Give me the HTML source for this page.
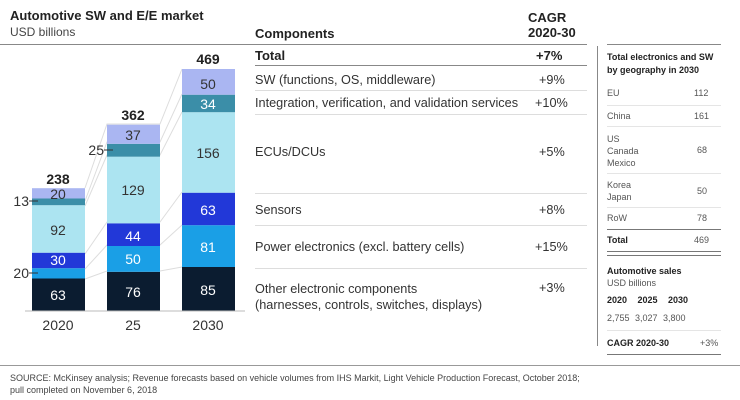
<!DOCTYPE html><html><head><style>
body{margin:0;width:740px;height:400px;background:#fff;position:relative;overflow:hidden;font-family:"Liberation Sans",sans-serif;color:#222}
.a{position:absolute;white-space:nowrap}
.s{position:absolute}
.r{font-size:12.7px;color:#333}
.g{font-size:9px;color:#555}
.hl{position:absolute;height:1px;background:#ddd}
</style></head><body>
<div class="a" style="left:10px;top:8px;font-size:13px;font-weight:bold;color:#222">Automotive SW and E/E market</div>
<div class="a" style="left:10px;top:25px;font-size:12px;color:#444">USD billions</div>
<div class="s" style="left:0;top:44px;width:587px;height:1px;background:#888"></div>

<svg class="s" style="left:0;top:0" width="250" height="330">
<g stroke="#ddd" stroke-width="1" fill="none">
<polyline points="85,188 107,124 160,124 182,69"/>
<polyline points="85,201 107,142 160,142 182,94"/>
<polyline points="85,206 107,155 160,155 182,112"/>
<polyline points="85,254 107,222 160,222 182,192"/>
<polyline points="85,269 107,245 160,245 182,225"/>
<polyline points="85,279 107,271 160,271 182,267"/>
</g>
<rect x="32" y="278.5" width="53" height="32.5" fill="#0b1c30"/>
<rect x="32" y="268.2" width="53" height="10.3" fill="#1a9fe6"/>
<rect x="32" y="252.7" width="53" height="15.5" fill="#2238d8"/>
<rect x="32" y="205.2" width="53" height="47.5" fill="#ace4f1"/>
<rect x="32" y="198.5" width="53" height="6.7" fill="#3b8ea8"/>
<rect x="32" y="188.2" width="53" height="10.3" fill="#aab6f2"/>
<rect x="107" y="271.8" width="53" height="39.2" fill="#0b1c30"/>
<rect x="107" y="246" width="53" height="25.8" fill="#1a9fe6"/>
<rect x="107" y="223.3" width="53" height="22.7" fill="#2238d8"/>
<rect x="107" y="156.7" width="53" height="66.6" fill="#ace4f1"/>
<rect x="107" y="143.8" width="53" height="12.9" fill="#3b8ea8"/>
<rect x="107" y="124.7" width="53" height="19.1" fill="#aab6f2"/>
<rect x="182" y="267" width="53" height="44" fill="#0b1c30"/>
<rect x="182" y="225.2" width="53" height="41.8" fill="#1a9fe6"/>
<rect x="182" y="192.7" width="53" height="32.5" fill="#2238d8"/>
<rect x="182" y="112.2" width="53" height="80.5" fill="#ace4f1"/>
<rect x="182" y="94.7" width="53" height="17.5" fill="#3b8ea8"/>
<rect x="182" y="69" width="53" height="25.7" fill="#aab6f2"/>
<line x1="25" y1="311" x2="245" y2="311" stroke="#bbb"/>
<g stroke="#333"><line x1="29" y1="273" x2="38" y2="273"/><line x1="29" y1="201" x2="38" y2="201"/><line x1="104" y1="150" x2="113" y2="150"/></g>
<g font-family="Liberation Sans" font-size="14" text-anchor="middle" fill="#333">
<text x="58" y="300" fill="#fff">63</text><text x="58" y="265" fill="#fff">30</text><text x="58" y="235">92</text><text x="58" y="199">20</text>
<text x="133" y="297" fill="#fff">76</text><text x="133" y="264" fill="#fff">50</text><text x="133" y="241" fill="#fff">44</text><text x="133" y="195">129</text><text x="133" y="140">37</text>
<text x="208" y="295" fill="#fff">85</text><text x="208" y="252" fill="#fff">81</text><text x="208" y="215" fill="#fff">63</text><text x="208" y="158">156</text><text x="208" y="109" fill="#fff">34</text><text x="208" y="89">50</text>
<g font-weight="bold" fill="#222"><text x="58" y="184">238</text><text x="133" y="120">362</text><text x="208" y="64">469</text></g>
<g text-anchor="end"><text x="29" y="278">20</text><text x="29" y="206">13</text><text x="104" y="155">25</text></g>
<text x="58" y="330">2020</text><text x="133" y="330">25</text><text x="208" y="330">2030</text>
</g>
</svg>

<div class="a" style="left:255px;top:26px;font-size:13px;font-weight:bold">Components</div>
<div class="a" style="left:528px;top:10px;font-size:13px;font-weight:bold;line-height:15px">CAGR<br>2020-30</div>
<div class="a" style="left:255px;top:48px;font-size:13px;font-weight:bold">Total</div>
<div class="a" style="left:536px;top:48px;font-size:13px;font-weight:bold">+7%</div>
<div class="s" style="left:255px;top:65px;width:332px;height:1px;background:#888"></div>
<div class="a r" style="left:255px;top:73px">SW (functions, OS, middleware)</div><div class="a r" style="left:539px;top:73px">+9%</div>
<div class="hl" style="left:255px;top:90px;width:332px"></div>
<div class="a r" style="left:255px;top:96px">Integration, verification, and validation services</div><div class="a r" style="left:535px;top:96px">+10%</div>
<div class="hl" style="left:255px;top:114px;width:332px"></div>
<div class="a r" style="left:255px;top:145px">ECUs/DCUs</div><div class="a r" style="left:539px;top:145px">+5%</div>
<div class="hl" style="left:255px;top:193px;width:332px"></div>
<div class="a r" style="left:255px;top:203px">Sensors</div><div class="a r" style="left:539px;top:203px">+8%</div>
<div class="hl" style="left:255px;top:225px;width:332px"></div>
<div class="a r" style="left:255px;top:240px">Power electronics (excl. battery cells)</div><div class="a r" style="left:535px;top:240px">+15%</div>
<div class="hl" style="left:255px;top:268px;width:332px"></div>
<div class="a r" style="left:255px;top:281px;line-height:16px">Other electronic components<br>(harnesses, controls, switches, displays)</div><div class="a r" style="left:539px;top:281px">+3%</div>

<div class="s" style="left:597px;top:46px;width:1px;height:300px;background:#888"></div>

<div class="s" style="left:607px;top:44px;width:114px;height:1px;background:#888"></div>
<div class="a" style="left:607px;top:51px;font-size:9px;font-weight:bold;line-height:13px">Total electronics and SW<br>by geography in 2030</div>
<div class="a g" style="left:607px;top:88px">EU</div><div class="a g" style="left:694px;top:88px">112</div>
<div class="hl" style="left:607px;top:105px;width:114px;background:#e5e5e5"></div>
<div class="a g" style="left:607px;top:111px">China</div><div class="a g" style="left:694px;top:111px">161</div>
<div class="hl" style="left:607px;top:126px;width:114px;background:#e5e5e5"></div>
<div class="a g" style="left:607px;top:133px;line-height:12px">US<br>Canada<br>Mexico</div><div class="a g" style="left:697px;top:145px">68</div>
<div class="hl" style="left:607px;top:173px;width:114px;background:#e5e5e5"></div>
<div class="a g" style="left:607px;top:179px;line-height:12px">Korea<br>Japan</div><div class="a g" style="left:697px;top:186px">50</div>
<div class="hl" style="left:607px;top:207px;width:114px;background:#e5e5e5"></div>
<div class="a g" style="left:607px;top:213px">RoW</div><div class="a g" style="left:697px;top:213px">78</div>
<div class="s" style="left:607px;top:229px;width:114px;height:1px;background:#777"></div>
<div class="a" style="left:607px;top:235px;font-size:9px;font-weight:bold">Total</div><div class="a g" style="left:694px;top:235px">469</div>
<div class="s" style="left:607px;top:251px;width:114px;height:1px;background:#777"></div>
<div class="s" style="left:607px;top:255px;width:114px;height:1px;background:#777"></div>
<div class="a" style="left:607px;top:266px;font-size:9px;font-weight:bold">Automotive sales</div>
<div class="a g" style="left:607px;top:278px">USD billions</div>
<div class="a" style="left:607px;top:295px;font-size:9px;font-weight:bold;word-spacing:8px">2020 2025 2030</div>
<div class="a g" style="left:607px;top:313px;word-spacing:3px">2,755 3,027 3,800</div>
<div class="hl" style="left:607px;top:330px;width:114px;background:#e5e5e5"></div>
<div class="a" style="left:607px;top:338px;font-size:9px;font-weight:bold">CAGR 2020-30</div><div class="a g" style="left:700px;top:338px">+3%</div>
<div class="s" style="left:607px;top:354px;width:114px;height:1px;background:#777"></div>

<div class="s" style="left:0;top:365px;width:740px;height:1px;background:#999"></div>
<div class="a" style="left:10px;top:372px;font-size:9px;color:#444;line-height:12px">SOURCE: McKinsey analysis; Revenue forecasts based on vehicle volumes from IHS Markit, Light Vehicle Production Forecast, October 2018;<br>pull completed on November 6, 2018</div>
</body></html>
